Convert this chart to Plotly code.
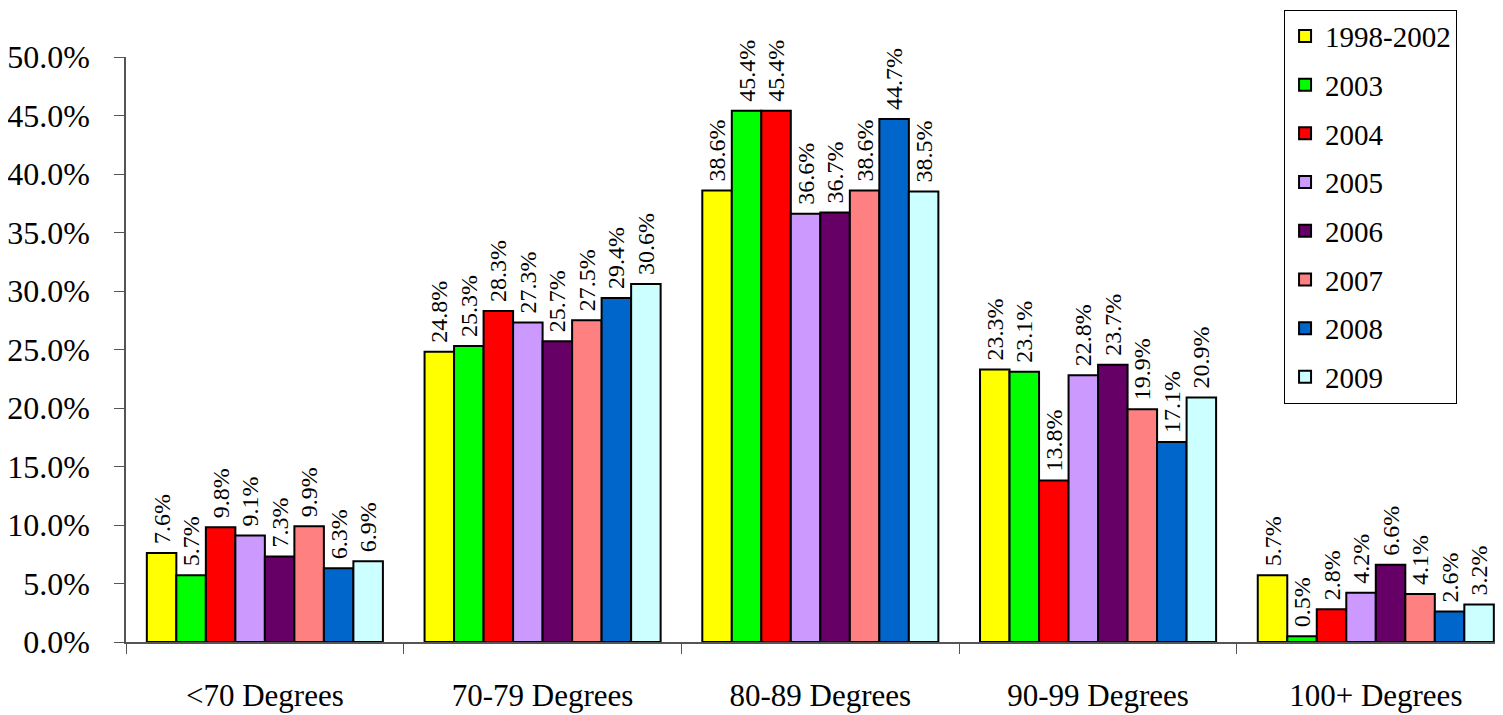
import plotly.graph_objects as go

categories = ["<70 Degrees", "70-79 Degrees", "80-89 Degrees", "90-99 Degrees", "100+ Degrees"]
series_names = ["1998-2002", "2003", "2004", "2005", "2006", "2007", "2008", "2009"]
colors = ["#FFFF00", "#00FF00", "#FF0000", "#CC99FF", "#660066", "#FF8080", "#0066CC", "#CCFFFF"]

v_1998_2002 = [7.6, 24.8, 38.6, 23.3, 5.7]
v_2003 = [5.7, 25.3, 45.4, 23.1, 0.5]
v_2004 = [9.8, 28.3, 45.4, 13.8, 2.8]
v_2005 = [9.1, 27.3, 36.6, 22.8, 4.2]
v_2006 = [7.3, 25.7, 36.7, 23.7, 6.6]
v_2007 = [9.9, 27.5, 38.6, 19.9, 4.1]
v_2008 = [6.3, 29.4, 44.7, 17.1, 2.6]
v_2009 = [6.9, 30.6, 38.5, 20.9, 3.2]
all_values = [v_1998_2002, v_2003, v_2004, v_2005, v_2006, v_2007, v_2008, v_2009]

y_ticks = [0, 5, 10, 15, 20, 25, 30, 35, 40, 45, 50]

FONT = "Liberation Serif"

fig = go.Figure()
for name, col, vals in zip(series_names, colors, all_values):
    fig.add_trace(go.Bar(
        x=categories, y=vals, name=name,
        marker=dict(color=col, line=dict(color="black", width=2)),
        text=[f"\u00a0{v:.1f}%" for v in vals],
        textposition="outside", textangle=-90, constraintext="none",
        textfont=dict(family=FONT, size=24, color="black"),
        cliponaxis=False, legendgroup=name,
    ))

fig.update_layout(
    template="none",
    width=1495, height=707,
    margin=dict(l=118, r=0, t=49, b=73, autoexpand=False),
    paper_bgcolor="white", plot_bgcolor="white",
    barmode="group", bargap=0.15, bargroupgap=0,
    font=dict(family=FONT, color="black"),
    legend=dict(
        x=0.841, y=1.081, xanchor="left", yanchor="top",
        bgcolor="white", bordercolor="black", borderwidth=1,
        font=dict(family=FONT, size=29, color="black"),
        tracegroupgap=8, maxheight=600,
    ),
    showlegend=True,
)
fig.update_xaxes(
    type="category",
    range=[-0.5, 4.458], automargin=False,
    tickson="boundaries", ticks="outside", ticklen=10, tickcolor="#555",
    showline=True, linecolor="#555", linewidth=1.5,
    showgrid=False, zeroline=False,
    tickfont=dict(family=FONT, size=31, color="black"),
    ticklabelstandoff=25,
)
fig.update_yaxes(
    range=[0, 50], tickmode="array", tickvals=y_ticks, automargin=False,
    ticktext=[f"{t:.1f}%" for t in y_ticks],
    ticks="outside", ticklen=10, tickcolor="#555",
    showline=True, linecolor="#555", linewidth=1.5,
    showgrid=False, zeroline=False,
    tickfont=dict(family=FONT, size=32, color="black"),
    ticklabelstandoff=18,
)
fig.write_html("out.html")
